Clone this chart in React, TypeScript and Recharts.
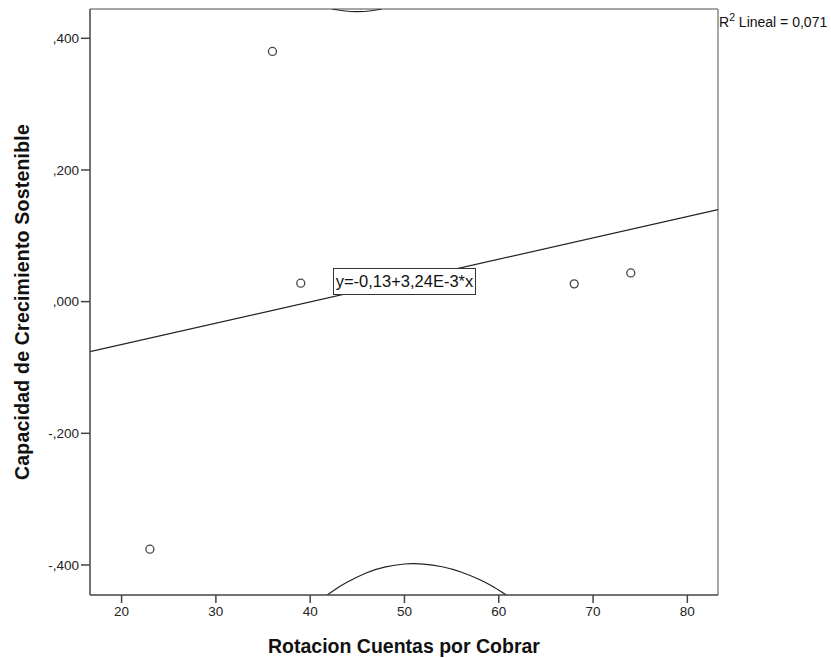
import {
  ComposedChart,
  Line,
  Scatter,
  XAxis,
  YAxis,
  ReferenceLine,
} from "recharts";

const xTicks = [20, 30, 40, 50, 60, 70, 80];
const yTicks = [-0.4, -0.2, 0, 0.2, 0.4];
const xDomain: [number, number] = [16.65, 83.25];
const yDomain: [number, number] = [-0.4456, 0.4445];

// Observed cases
const rotacion = [23, 36, 39, 68, 74];
const capacidad = [-0.376, 0.38, 0.028, 0.027, 0.0436];

// Fit line endpoints (y = -0.13 + 3.24E-3 * x)
const fitX = [16.65, 83.25];
const fitY = [-0.076, 0.1397];

// Mean confidence bounds (clipped at the frame)
const upperX = [42.3, 43.5, 45, 46.5, 47.6];
const upperY = [0.4445, 0.4418, 0.4404, 0.4418, 0.4445];
const lowerX = [41.8, 43, 44, 46, 48, 50, 50.9, 52, 54, 56, 58, 59.5, 60.8];
const lowerY = [-0.4456, -0.434, -0.4254, -0.4118, -0.4028, -0.3985, -0.398, -0.3986, -0.4027, -0.4107, -0.4225, -0.4339, -0.4456];

const points = rotacion.map((x, i) => ({ x, y: capacidad[i] }));
const fit = fitX.map((x, i) => ({ x, y: fitY[i] }));
const upper = upperX.map((x, i) => ({ x, y: upperY[i] }));
const lower = lowerX.map((x, i) => ({ x, y: lowerY[i] }));

const FONT = "'Liberation Sans', Arial, sans-serif";

const fmtY = (v: number) => (v < 0 ? "-" : "") + Math.abs(v).toFixed(3).replace("0.", ",");

const Ring = (props: any) => (
  <circle cx={props.cx} cy={props.cy} r={4} fill="#fff" stroke="#444" strokeWidth={1.3} />
);

export default function App() {
  return (
    <div style={{ position: "absolute", left: 0, top: 0, width: 831, height: 658, background: "#fff", fontFamily: FONT }}>
      <ComposedChart
        width={831}
        height={658}
        margin={{ top: 9, right: 113, bottom: 0, left: 0 }}
        style={{ fontFamily: FONT }}
      >
        <XAxis
          type="number"
          dataKey="x"
          domain={xDomain}
          ticks={xTicks}
          allowDataOverflow
          height={63}
          tickSize={8}
          tickMargin={3}
          stroke="#444"
          strokeWidth={1.5}
          tick={{ fill: "#222", fontSize: 13.5 }}
          label={{
            value: "Rotacion Cuentas por Cobrar",
            position: "insideBottom",
            offset: 5,
            style: { fontSize: 19.5, fontWeight: "bold", fill: "#111" },
          }}
        />
        <YAxis
          type="number"
          dataKey="y"
          domain={yDomain}
          ticks={yTicks}
          allowDataOverflow
          width={90}
          tickSize={9}
          tickMargin={2}
          stroke="#444"
          strokeWidth={1.5}
          tickFormatter={fmtY}
          tick={{ fill: "#222", fontSize: 13.5 }}
          label={{
            value: "Capacidad de Crecimiento Sostenible",
            angle: -90,
            position: "insideLeft",
            offset: 22,
            style: { fontSize: 19.5, fontWeight: "bold", fill: "#111", textAnchor: "middle", letterSpacing: 0.2 },
          }}
        />
        <ReferenceLine y={yDomain[1]} stroke="#888" strokeWidth={1.5} />
        <ReferenceLine x={xDomain[1]} stroke="#888" strokeWidth={1.5} />
        <Line data={fit} dataKey="y" type="linear" stroke="#222" strokeWidth={1.2} dot={false} isAnimationActive={false} />
        <Line data={upper} dataKey="y" type="natural" stroke="#222" strokeWidth={1.2} dot={false} isAnimationActive={false} />
        <Line data={lower} dataKey="y" type="natural" stroke="#222" strokeWidth={1.2} dot={false} isAnimationActive={false} />
        <Scatter data={points} dataKey="y" shape={<Ring />} isAnimationActive={false} />
      </ComposedChart>
      <div
        style={{
          position: "absolute",
          left: 333,
          top: 268,
          width: 141,
          height: 25,
          border: "1px solid #333",
          background: "#fff",
          fontSize: 16.5,
          lineHeight: "25px",
          color: "#111",
          textAlign: "center",
          whiteSpace: "nowrap",
        }}
      >
        y=-0,13+3,24E-3*x
      </div>
      <div
        style={{
          position: "absolute",
          left: 719,
          top: 13,
          fontSize: 14,
          lineHeight: "18px",
          color: "#111",
          whiteSpace: "nowrap",
        }}
      >
        R<sup style={{ fontSize: 10.5, verticalAlign: "6px", lineHeight: 0 }}>2</sup> Lineal = 0,071
      </div>
    </div>
  );
}
